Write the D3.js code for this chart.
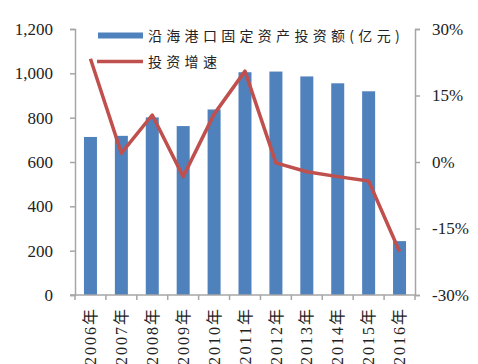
<!DOCTYPE html>
<html><head><meta charset="utf-8">
<script src="https://cdn.jsdelivr.net/npm/d3@7"></script>
<style>body{margin:0;background:#fff}svg{display:block}</style>
</head><body>
<script>
const categories = ["2006年","2007年","2008年","2009年","2010年","2011年","2012年","2013年","2014年","2015年","2016年"];
const investment = [713, 718, 801, 762, 837, 1005, 1008, 986, 955, 919, 243];
const growth = [23.3, 2.0, 10.6, -3.3, 10.8, 20.5, -0.2, -2.2, -3.3, -4.3, -20.2];
const leftTicks = [0, 200, 400, 600, 800, 1000, 1200];
const rightTicks = [-30, -15, 0, 15, 30];
const seriesNames = ["沿海港口固定资产投资额(亿元)", "投资增速"];

const W = 478, H = 364;
const m = {left: 75, right: 63, top: 29, bottom: 69};
const svg = d3.select("body").append("svg").attr("width", W).attr("height", H);
const xb = d3.scaleBand().domain(categories).range([m.left, W - m.right]);
const yL = d3.scaleLinear().domain([0, 1200]).range([H - m.bottom, m.top]);
const yR = d3.scaleLinear().domain([-30, 30]).range([H - m.bottom, m.top]);
const axisColor = "#a6a6a6";
const font = "'Liberation Serif', 'Times New Roman', serif";

// bars
svg.append("g").selectAll("rect").data(investment).join("rect")
  .attr("x", (d, i) => xb(categories[i]) + xb.bandwidth() / 2 - 6.5)
  .attr("width", 13)
  .attr("y", d => yL(d))
  .attr("height", d => yL(0) - yL(d))
  .attr("fill", "#4f81bd");

// left axis
const gL = svg.append("g").attr("transform", `translate(${m.left},0)`)
  .call(d3.axisLeft(yL).tickValues(leftTicks).tickSize(5).tickPadding(17).tickFormat(d3.format(",")));
// right axis
const gR = svg.append("g").attr("transform", `translate(${W - m.right},0)`)
  .call(d3.axisRight(yR).tickValues(rightTicks).tickSize(5).tickPadding(12).tickFormat(d => d + "%"));
// bottom axis
const gB = svg.append("g").attr("transform", `translate(0,${H - m.bottom})`)
  .call(d3.axisBottom(xb).tickSize(0).tickPadding(0));
[gL, gR, gB].forEach(g => {
  g.select(".domain").attr("stroke", axisColor).attr("stroke-width", 1.5);
  g.selectAll(".tick line").attr("stroke", axisColor).attr("stroke-width", 1.5);
  g.selectAll("text").attr("fill", "#222").style("font-family", font).style("font-size", "17px");
});
gB.select(".domain").attr("d", `M${m.left - 5},0H${W - m.right}`);
// category boundary ticks
svg.append("g").selectAll("line").data(categories.concat(["end"])).join("line")
  .attr("x1", (d, i) => m.left + i * xb.step()).attr("x2", (d, i) => m.left + i * xb.step())
  .attr("y1", H - m.bottom).attr("y2", H - m.bottom + 5)
  .attr("stroke", axisColor).attr("stroke-width", 1.5);
gB.selectAll(".tick text")
  .attr("text-anchor", "end")
  .attr("transform", "translate(0,12) rotate(-90)")
  .attr("x", 0).attr("y", 0).attr("dy", "0.35em")
  .style("font-family", "'Liberation Serif','Noto Sans CJK SC', serif")
  .style("font-size", "16px")
  .style("letter-spacing", "2px");

// line
const line = d3.line().x((d, i) => xb(categories[i]) + xb.bandwidth() / 2).y(d => yR(d));
svg.append("path").datum(growth).attr("d", line)
  .attr("fill", "none").attr("stroke", "#c0504d").attr("stroke-width", 3.5).attr("stroke-linejoin", "round");

// legend
const lg = svg.append("g");
lg.append("rect").attr("x", 98).attr("y", 32.5).attr("width", 45).attr("height", 6).attr("fill", "#4f81bd");
lg.append("line").attr("x1", 97).attr("x2", 143).attr("y1", 61.5).attr("y2", 61.5).attr("stroke", "#c0504d").attr("stroke-width", 3.5);
lg.selectAll("text").data(seriesNames).join("text")
  .attr("x", 148).attr("y", (d, i) => 36 + i * 26).attr("dy", "0.35em")
  .style("font-family", "'Noto Sans CJK SC', sans-serif").style("font-size", "14px")
  .style("letter-spacing", "4.3px").attr("fill", "#222").text(d => d);
</script>
</body></html>
